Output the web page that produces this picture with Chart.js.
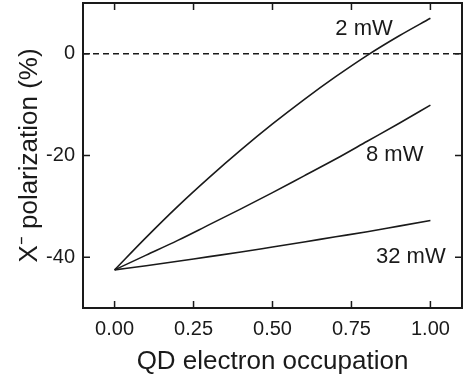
<!DOCTYPE html>
<html>
<head>
<meta charset="utf-8">
<script src="https://cdn.jsdelivr.net/npm/chart.js@4/dist/chart.umd.min.js"></script>
<style>
html,body{margin:0;padding:0;background:#fff;}
#wrap{width:466px;height:381px;}
</style>
</head>
<body>
<div id="wrap"><canvas id="c" width="466" height="381"></canvas></div>
<script>
// ---- data ----
const occupation = [0, 0.1, 0.2, 0.3, 0.4, 0.5, 0.6, 0.7, 0.8, 0.9, 1.0];
const pol2mW  = [-42.5, -36.1, -30.0, -24.3, -18.9, -13.8, -9.0, -4.5, -0.3, 3.5, 7.0];
const pol8mW  = [-42.5, -39.6, -36.7, -33.6, -30.5, -27.3, -24.0, -20.7, -17.2, -13.7, -10.1];
const pol32mW = [-42.5, -41.7, -40.8, -39.9, -39.0, -38.0, -37.0, -36.0, -35.0, -33.9, -32.8];
const seriesNames = ['2 mW', '8 mW', '32 mW'];
const xTicks = [0, 0.25, 0.5, 0.75, 1.0];
const yTicks = [-40, -20, 0];
const refLineX = [-0.1, 1.1];
const refLineY = [0, 0];
// label anchor points (data coordinates) for the series annotations
const labelX = [0.79, 0.887, 0.938];
const labelY = [4.8, -19.9, -39.9];

const FONT = "'Liberation Sans', Arial, Helvetica, sans-serif";
const INK = '#1a1a1a';

function pts(xs, ys){ return xs.map((x,i)=>({x:x, y:ys[i]})); }

const framePlugin = {
  id: 'frame',
  afterDatasetsDraw(chart){
    const {ctx, chartArea:a, scales:{x, y}} = chart;
    ctx.save();
    ctx.strokeStyle = INK;
    ctx.lineWidth = 2;
    ctx.strokeRect(a.left, a.top, a.right - a.left, a.bottom - a.top);
    ctx.lineWidth = 1.5;
    const tl = 7;
    ctx.beginPath();
    xTicks.forEach(v=>{
      const px = x.getPixelForValue(v);
      ctx.moveTo(px, a.bottom); ctx.lineTo(px, a.bottom - tl);
      ctx.moveTo(px, a.top); ctx.lineTo(px, a.top + tl);
    });
    yTicks.forEach(v=>{
      const py = y.getPixelForValue(v);
      ctx.moveTo(a.left, py); ctx.lineTo(a.left + tl, py);
      ctx.moveTo(a.right, py); ctx.lineTo(a.right - tl, py);
    });
    ctx.stroke();
    // series labels
    ctx.fillStyle = INK;
    ctx.font = '22px ' + FONT;
    ctx.textAlign = 'center';
    ctx.textBaseline = 'middle';
    seriesNames.forEach((n,i)=>{
      ctx.fillText(n, x.getPixelForValue(labelX[i]), y.getPixelForValue(labelY[i]));
    });
    ctx.restore();
  }
};

const lineStyle = {borderColor: INK, borderWidth: 1.6, pointRadius: 0, fill: false,
                   tension: 0.4, cubicInterpolationMode: 'monotone'};

new Chart(document.getElementById('c'), {
  type: 'line',
  data: {
    datasets: [
      Object.assign({label: seriesNames[0], data: pts(occupation, pol2mW)}, lineStyle),
      Object.assign({label: seriesNames[1], data: pts(occupation, pol8mW)}, lineStyle),
      Object.assign({label: seriesNames[2], data: pts(occupation, pol32mW)}, lineStyle),
      {label: 'zero', data: pts(refLineX, refLineY), borderColor: INK, borderWidth: 1.5,
       borderDash: [6, 4], pointRadius: 0, tension: 0, fill: false}
    ]
  },
  options: {
    responsive: false,
    animation: false,
    devicePixelRatio: 1,
    layout: {padding: {left: 0, right: 4, top: 3, bottom: 0}},
    plugins: {legend: {display: false}, tooltip: {enabled: false}},
    scales: {
      x: {
        type: 'linear', min: -0.1, max: 1.1,
        afterBuildTicks: s => { s.ticks = xTicks.map(v=>({value: v})); },
        afterFit: s => { s.height = 73; s.paddingLeft = 0; s.paddingRight = 0; },
        grid: {display: false, drawTicks: false},
        border: {display: false},
        ticks: {color: INK, font: {family: FONT, size: 20}, padding: 9,
                callback: v => Number(v).toFixed(2)},
        title: {display: true, text: 'QD electron occupation', color: INK,
                font: {family: FONT, size: 26}, padding: {top: 0, bottom: 4}}
      },
      y: {
        type: 'linear', min: -50, max: 10,
        afterBuildTicks: s => { s.ticks = yTicks.map(v=>({value: v})); },
        afterFit: s => { s.width = 83; s.paddingTop = 0; s.paddingBottom = 0; },
        grid: {display: false, drawTicks: false},
        border: {display: false},
        ticks: {color: INK, font: {family: FONT, size: 20}, padding: 8},
        title: {display: true, text: 'X\u207B polarization (%)', color: INK,
                font: {family: FONT, size: 26}, padding: {top: 14, bottom: 0}}
      }
    }
  },
  plugins: [framePlugin]
});
</script>
</body>
</html>
